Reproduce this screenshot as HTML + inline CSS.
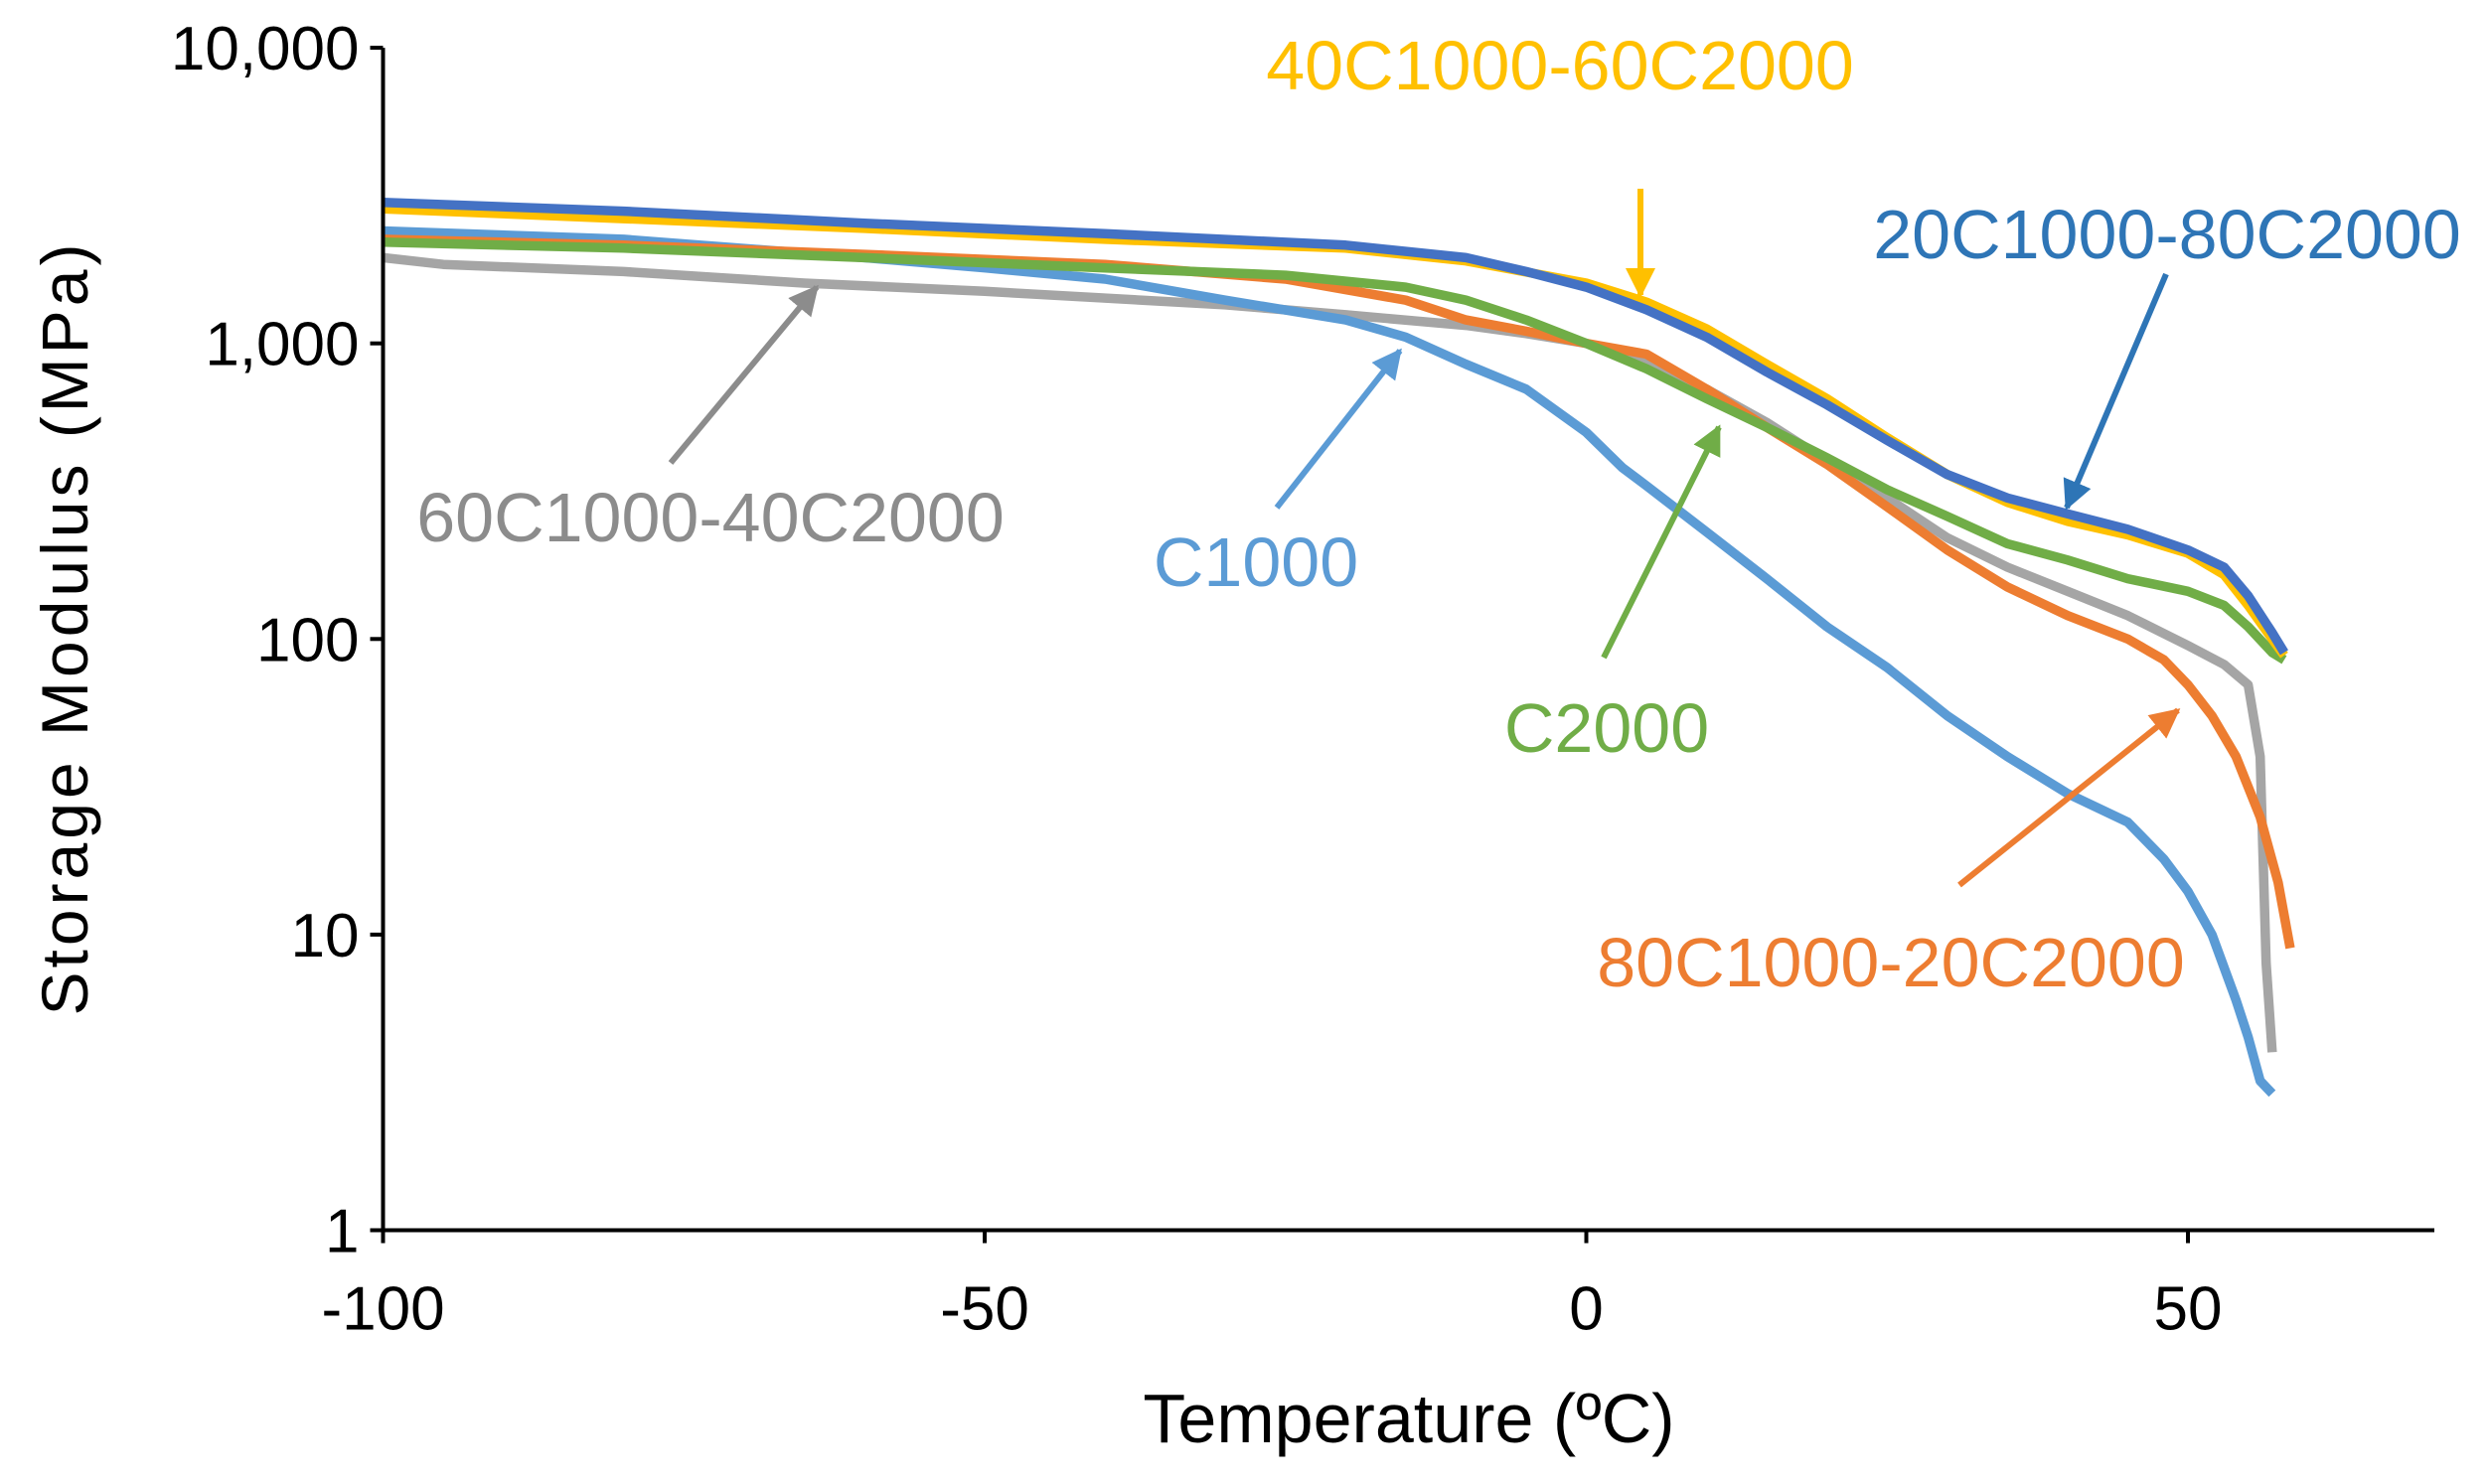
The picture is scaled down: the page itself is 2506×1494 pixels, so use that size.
<!DOCTYPE html>
<html><head><meta charset="utf-8"><style>
html,body{margin:0;padding:0;background:#fff;}
svg{display:block;font-family:"Liberation Sans",Arial,sans-serif;}
</style></head><body>
<svg id="chart" width="2506" height="1494" viewBox="0 0 2506 1494" xmlns="http://www.w3.org/2000/svg">
<defs>
<marker id="ah" viewBox="0 0 10 10" refX="9" refY="5" markerWidth="5" markerHeight="5" orient="auto-start-reverse" markerUnits="strokeWidth"><path d="M0,0 L10,5 L0,10 z" fill="context-stroke"/></marker>
</defs>
<g id="series"></g>
<g id="axes"></g>
<g id="notes"></g>
</svg>
<script>
const xTicks = [-100, -50, 0, 50];
const yTicks = [1, 10, 100, 1000, 10000];
const yTickLabels = ["1", "10", "100", "1,000", "10,000"];
const tBlue = [-100,-80,-60,-40,-20,-10,-5,0,5,10,15,20,25,30,35,40,45,50,53,55,57,58];
const vBlue = [3000,2800,2550,2350,2150,1950,1750,1550,1300,1050,800,620,470,360,300,265,235,200,175,140,105,90];
const tYellow = [-100,-60,-40,-20,-10,0,5,10,15,20,25,30,35,40,45,50,53,55,57,58];
const vYellow = [2850,2450,2250,2100,1900,1600,1380,1120,850,650,480,360,290,250,225,195,165,130,100,88];
const tGreen = [-100,-80,-60,-40,-25,-15,-10,-5,0,5,10,15,20,25,30,35,40,45,50,53,55,57,58];
const vGreen = [2200,2100,1950,1800,1700,1550,1400,1200,1000,820,650,520,410,320,260,210,185,160,145,130,110,90,85];
const tOrange = [-100,-80,-60,-40,-25,-15,-10,-5,0,5,10,15,20,25,30,35,40,45,48,50,52,54,56,57.5,58.5];
const vOrange = [2250,2150,2000,1850,1650,1400,1200,1100,1000,920,700,520,390,280,200,150,120,100,85,70,55,40,25,15,9];
const tGray = [-100,-95,-80,-65,-50,-30,-20,-10,-5,0,5,10,15,20,25,30,35,40,45,50,53,55,56,56.5,57];
const vGray = [1950,1850,1750,1600,1500,1350,1250,1150,1080,1000,880,700,540,400,300,220,175,145,120,95,82,70,40,8,4];
const tLight = [-100,-80,-60,-50,-40,-30,-20,-15,-10,-5,0,3,5,10,15,20,25,30,35,40,45,48,50,52,54,55,56,57];
const vLight = [2400,2250,1950,1800,1650,1400,1200,1050,850,700,500,380,330,230,160,110,80,55,40,30,24,18,14,10,6,4.5,3.2,2.9];

const X0=385.5, XS=12.11, YB=1238.5, DEC=297.6;
const sx = t => X0 + (t+100)*XS;
const sy = v => YB - Math.log10(v)*DEC;
const NS="http://www.w3.org/2000/svg";
function mk(tag, attrs, parent){const e=document.createElementNS(NS,tag);for(const k in attrs)e.setAttribute(k,attrs[k]);parent.appendChild(e);return e;}

const series=document.getElementById('series');
function line(ts,vs,color,name){
  const p=mk('polyline',{points:ts.map((t,i)=>sx(t).toFixed(1)+','+sy(vs[i]).toFixed(1)).join(' '),fill:'none',stroke:color,'stroke-width':9.5,'stroke-linejoin':'round'},series);
  
  
}
line(tGray,vGray,'#a5a5a5','series-60c1000-40c2000');
line(tLight,vLight,'#5b9bd5','series-c1000');
line(tOrange,vOrange,'#ed7d31','series-80c1000-20c2000');
line(tGreen,vGreen,'#70ad47','series-c2000');
line(tYellow,vYellow,'#ffc000','series-40c1000-60c2000');
line(tBlue,vBlue,'#4472c4','series-20c1000-80c2000');

const axes=document.getElementById('axes');
const ya=mk('line',{x1:X0,y1:sy(10000),x2:X0,y2:YB+12,stroke:'#000','stroke-width':4},axes);


const xa=mk('line',{x1:X0-2,y1:YB,x2:2450,y2:YB,stroke:'#000','stroke-width':4},axes);


yTicks.forEach((v,i)=>{
  mk('line',{x1:X0-13,y1:sy(v),x2:X0,y2:sy(v),stroke:'#000','stroke-width':4},axes);
  const t=mk('text',{x:X0-24,y:sy(v)+22,'text-anchor':'end','font-size':62,fill:'#000'},axes);
  t.textContent=yTickLabels[i];
  
  
});
xTicks.forEach(v=>{
  mk('line',{x1:sx(v),y1:YB,x2:sx(v),y2:YB+13,stroke:'#000','stroke-width':4},axes);
  const t=mk('text',{x:sx(v),y:YB+100,'text-anchor':'middle','font-size':62,fill:'#000'},axes);
  t.textContent=String(v);
  
  
});
const xt=mk('text',{x:1418,y:1452,'text-anchor':'middle','font-size':70,fill:'#000'},axes);
xt.textContent='Temperature  (ºC)';


const yt=mk('text',{x:0,y:0,'text-anchor':'middle','font-size':66,'letter-spacing':4,fill:'#000',transform:'translate(88,632) rotate(-90)'},axes);
yt.textContent='Storage Modulus  (MPa)';



const notes=document.getElementById('notes');
function note(txt,cx,by,color,ax1,ay1,ax2,ay2,name){
  const t=mk('text',{x:cx,y:by,'text-anchor':'middle','font-size':70,fill:color},notes);
  t.textContent=txt;
  
  
  const a=mk('line',{x1:ax1,y1:ay1,x2:ax2,y2:ay2,stroke:color,'stroke-width':6,'marker-end':'url(#ah)'},notes);
  
  
}
note('40C1000-60C2000',1570,90,'#ffc000',1651,190,1651,297,'annotation-40c1000-60c2000');
note('20C1000-80C2000',2181,260,'#2e75b6',2180,276,2080,511,'annotation-20c1000-80c2000');
note('60C1000-40C2000',715,545,'#8c8c8c',675,466,822,289,'annotation-60c1000-40c2000');
note('C1000',1264,590,'#5b9bd5',1285,511,1409,353,'annotation-c1000');
note('C2000',1617,757,'#70ad47',1614,662,1730,430,'annotation-c2000');
note('80C1000-20C2000',1903,993,'#ed7d31',1972,891,2192,715,'annotation-80c1000-20c2000');
</script>
</body></html>
